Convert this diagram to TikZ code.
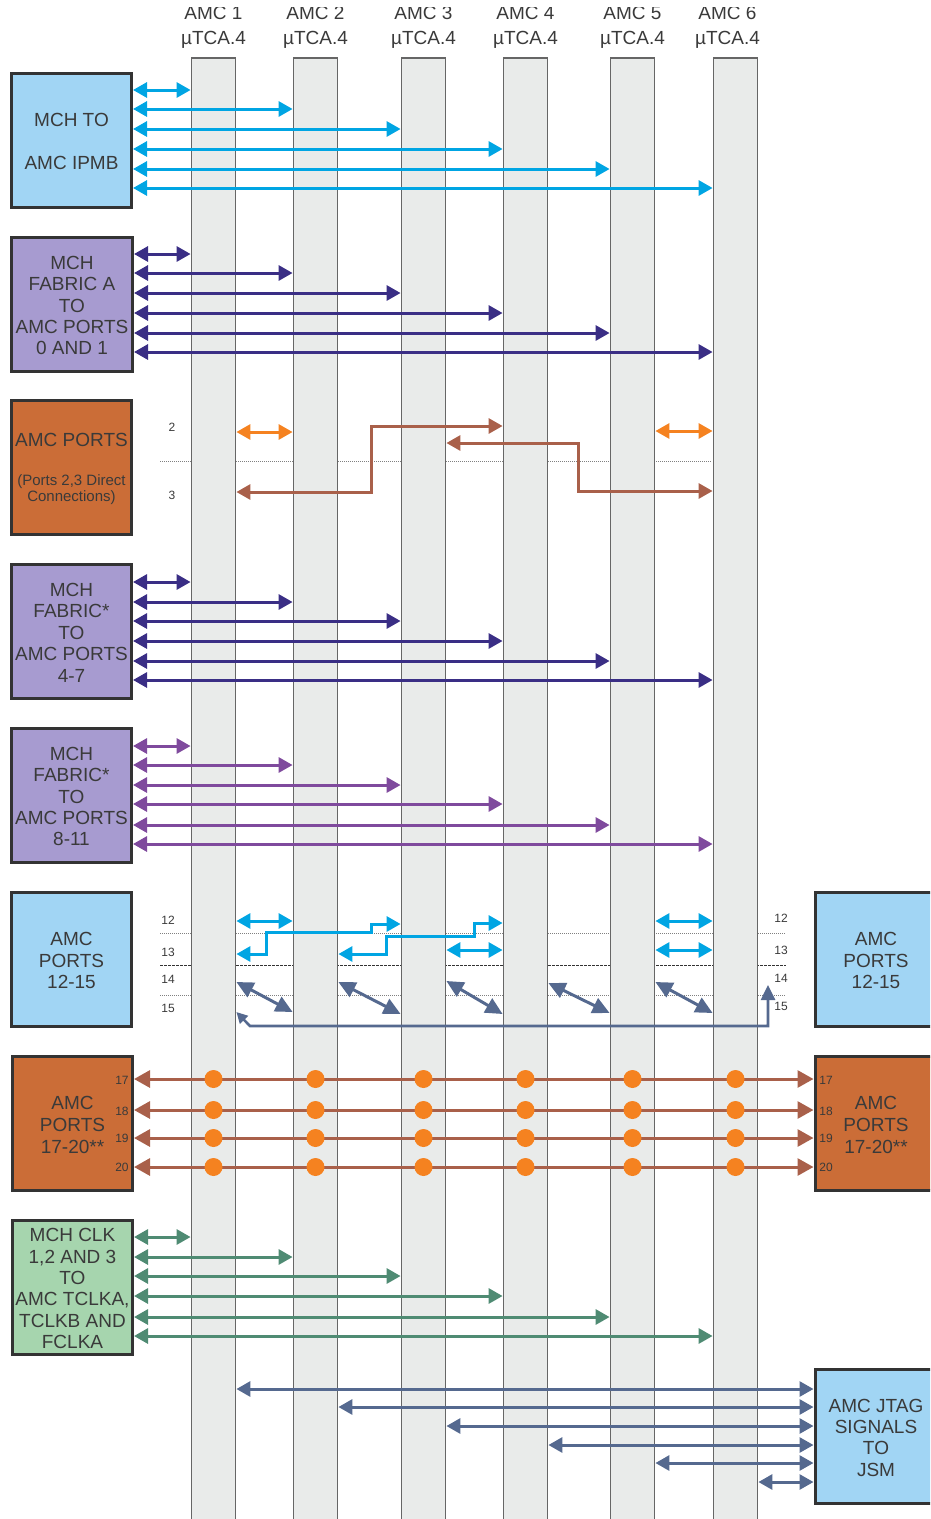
\documentclass[tikz,border=0pt]{standalone}
\usepackage{fontspec}
\setmainfont{Liberation Sans}
\usetikzlibrary{arrows.meta}
\definecolor{lanegray}{HTML}{E9EBEA}
\definecolor{inktext}{HTML}{3A3A3A}
\definecolor{boxblue}{HTML}{A1D5F4}
\definecolor{boxpurple}{HTML}{A79BD0}
\definecolor{boxorange}{HTML}{CB6D37}
\definecolor{boxgreen}{HTML}{A6D5AE}
\definecolor{buscyan}{HTML}{00A5E3}
\definecolor{busindigo}{HTML}{3A2E85}
\definecolor{busbrown}{HTML}{A9604A}
\definecolor{busorange}{HTML}{F58220}
\definecolor{busviolet}{HTML}{7F4A9D}
\definecolor{busgreen}{HTML}{4F8B73}
\definecolor{busslate}{HTML}{55698F}
\tikzset{
  lanebar/.style={draw=black!60, fill=lanegray, line width=1.2pt, minimum width=44.6pt, minimum height=1462pt, inner sep=0pt},
  lanehead/.style={font=\fontsize{19}{24.5}\selectfont, text=inktext, align=center, inner sep=0pt},
  blocktext/.style={align=center, text=inktext, inner sep=0pt, yshift=-1.6pt, font=\fontsize{19}{21.4}\selectfont},
  block/.style={draw=black!80, line width=3pt, minimum width=120pt, minimum height=134pt, inner sep=0pt, label={[blocktext]center:#1}},
  smalltext/.style={font=\fontsize{15}{16}\selectfont},
  portno/.style={font=\fontsize{12}{12}\selectfont, text=inktext, inner sep=0pt},
  bus/.style={{Triangle[length=14pt,width=15pt]}-{Triangle[length=14pt,width=15pt]}, line width=3pt},
  busbig/.style={{Triangle[length=16pt,width=17pt]}-{Triangle[length=16pt,width=17pt]}, line width=3pt},
  skew/.style={{Triangle[length=17pt,width=16pt]}-{Triangle[length=17pt,width=16pt]}, line width=3pt, busslate},
  looped/.style={{Triangle[length=11pt,width=11pt]}-{Triangle[length=15pt,width=14pt]}, line width=2.6pt, busslate},
  tap/.style={circle, fill=busorange, minimum size=18pt, inner sep=0pt},
  tierline/.style={black!50, dash pattern=on 1pt off 1pt, line width=1pt},
  tierdark/.style={black!80, dash pattern=on 2.5pt off 1.5pt, line width=1pt}
}
\begin{document}
\begin{tikzpicture}[x=1pt,y=-1pt]
  \useasboundingbox (0,0) rectangle (930,1519);
  \clip (0,7) rectangle (930,1519);
  % tier lines run behind the lanes
  \draw[tierline] (160,461)--(712,461);
  \draw[tierline] (160,933)--(786,933);
  \draw[tierdark] (160,965)--(786,965);
  \draw[tierline] (160,995)--(786,995);
  \foreach \i/\xc/\xh in {1/213/213,2/315/315,3/423/423,4/525/525,5/632/632,6/735/727}{
    \node[lanebar] (amc\i) at (\xc.5,789) {};
    \node[lanehead] (head\i) at (\xh.5,27.5) {AMC \i\\µTCA.4};
  }
  \node[block={MCH TO\\[21.9pt]AMC IPMB},fill=boxblue] (ipmb) at (71.5,140) {};
  \node[block={MCH\\FABRIC A\\TO\\AMC PORTS\\0 AND 1},fill=boxpurple,minimum width=121pt] (fabrica) at (72,304) {};
  \node[block={},fill=boxorange] (direct) at (71.5,467.5) {};
  \node[text=inktext,font=\fontsize{19}{21}\selectfont,inner sep=0pt] (directa) at (71.5,440) {AMC PORTS};
  \node[text=inktext,smalltext,align=center,inner sep=0pt] (directb) at (71.5,490) {(Ports 2,3 Direct\\Connections)};
  \node[block={MCH\\FABRIC*\\TO\\AMC PORTS\\4-7},fill=boxpurple] (fabricb) at (71.5,631) {};
  \node[block={MCH\\FABRIC*\\TO\\AMC PORTS\\8-11},fill=boxpurple] (fabricc) at (71.5,795) {};
  \node[block={AMC\\PORTS\\12-15},fill=boxblue] (fatl) at (71.5,959) {};
  \node[block={AMC\\PORTS\\12-15},fill=boxblue,minimum width=122pt] (fatr) at (876,959) {};
  \node[block={AMC\\[0.6pt]PORTS\\[0.6pt]17-20**},fill=boxorange] (extl) at (72.5,1123) {};
  \node[block={AMC\\[0.6pt]PORTS\\[0.6pt]17-20**},fill=boxorange,minimum width=122pt] (extr) at (876,1123) {};
  \node[block={MCH CLK\\1,2 AND 3\\TO\\AMC TCLKA,\\TCLKB AND\\FCLKA},fill=boxgreen] (clk) at (72.5,1287) {};
  \node[block={AMC JTAG\\SIGNALS\\TO\\JSM},fill=boxblue,minimum width=122pt] (jtag) at (876,1436) {};

  \foreach \i/\y in {1/90,2/109,3/129,4/149,5/169,6/188}{\draw[bus,buscyan] (ipmb.east |- 0,\y)--(amc\i.west |- 0,\y);}
  \foreach \i/\y in {1/254,2/273,3/293,4/313,5/333,6/352}{\draw[bus,busindigo] (fabrica.east |- 0,\y)--(amc\i.west |- 0,\y);}
  \foreach \i/\y in {1/582,2/602,3/621,4/641,5/661,6/680}{\draw[bus,busindigo] (fabricb.east |- 0,\y)--(amc\i.west |- 0,\y);}
  \foreach \i/\y in {1/746,2/765,3/785,4/804,5/825,6/844}{\draw[bus,busviolet] (fabricc.east |- 0,\y)--(amc\i.west |- 0,\y);}
  \foreach \i/\y in {1/1237,2/1257,3/1276,4/1296,5/1317,6/1336}{\draw[bus,busgreen] (clk.east |- 0,\y)--(amc\i.west |- 0,\y);}
  \foreach \i/\y in {1/1389,2/1407,3/1426,4/1445,5/1463,6/1482}{\draw[bus,busslate] (amc\i.east |- 0,\y)--(jtag.west |- 0,\y);}

  % ports 2 and 3
  \node[portno] (lab2) at (172,427) {2};
  \node[portno] (lab3) at (172,495) {3};
  \draw[bus,busorange] (amc1.east |- 0,432)--(amc2.west |- 0,432);
  \draw[bus,busorange] (amc5.east |- 0,431)--(amc6.west |- 0,431);
  \draw[bus,busbrown] (amc1.east |- 0,492)--(371,492)--(371,426)--(amc4.west |- 0,426);
  \draw[bus,busbrown] (amc3.east |- 0,443)--(578,443)--(578,491)--(amc6.west |- 0,491);

  % ports 12 to 15
  \foreach \n/\y in {12/920,13/952,14/979,15/1008}{\node[portno] (labl\n) at (168,\y) {\n};}
  \foreach \n/\y in {12/918,13/950,14/978,15/1006}{\node[portno] (labr\n) at (781,\y) {\n};}
  \draw[bus,buscyan] (amc1.east |- 0,921)--(amc2.west |- 0,921);
  \draw[bus,buscyan] (amc5.east |- 0,921)--(amc6.west |- 0,921);
  \draw[bus,buscyan] (amc5.east |- 0,950)--(amc6.west |- 0,950);
  \draw[bus,buscyan] (amc3.east |- 0,950)--(amc4.west |- 0,950);
  \draw[bus,buscyan] (amc1.east |- 0,954)--(266,954)--(266,932)--(371,932)--(371,924)--(amc3.west |- 0,924);
  \draw[bus,buscyan] (amc2.east |- 0,954)--(386,954)--(386,936)--(474,936)--(474,923)--(amc4.west |- 0,923);
  \foreach \a/\b/\ya/\yb in {1/2/982/1012,2/3/982/1014,3/4/981/1014,4/5/983/1013,5/6/982/1013}{
    \draw[skew] (amc\a.east |- 0,\ya)--(amc\b.west |- 0,\yb);
  }
  \draw[looped] (amc1.east |- 0,1012)--(250,1026)--(768,1026)--(768,985);

  % ports 17 to 20
  \foreach \y in {1079,1110,1138,1167}{
    \draw[busbig,busbrown] (extl.east |- 0,\y)--(extr.west |- 0,\y);
    \foreach \i in {1,2,3,4,5,6}{\node[tap] (tap\i\y) at (amc\i |- 0,\y) {};}
  }
  \foreach \n/\y in {17/1080,18/1111,19/1138,20/1167}{
    \node[portno] (extlab\n) at (122,\y) {\n};
    \node[portno] (extrab\n) at (826,\y) {\n};
  }
\end{tikzpicture}
\end{document}
